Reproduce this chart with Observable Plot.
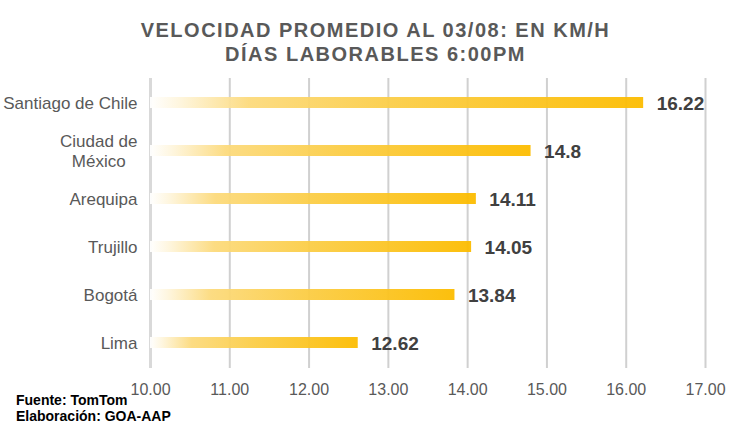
<!DOCTYPE html>
<html>
<head>
<meta charset="utf-8">
<script src="https://cdn.jsdelivr.net/npm/d3@7"></script>
<script src="https://cdn.jsdelivr.net/npm/@observablehq/plot@0.6"></script>
<style>
  html, body { margin: 0; padding: 0; background: #fff; }
  body { width: 751px; height: 437px; position: relative; overflow: hidden; font-family: "Liberation Sans", Arial, sans-serif; }
  #title { position: absolute; top: 18px; left: 0; width: 751px; text-align: center; font-size: 20px; line-height: 24px; font-weight: bold; color: #595959; letter-spacing: 1.5px; }
  #chart { position: absolute; top: 68px; left: 0; }
  #caption { position: absolute; top: 392px; left: 16px; font-size: 14px; line-height: 16px; font-weight: bold; color: #000; }
</style>
</head>
<body>
<div id="title">VELOCIDAD PROMEDIO AL 03/08: EN KM/H<br>DÍAS LABORABLES 6:00PM</div>
<div id="chart"></div>
<div id="caption">Fuente: TomTom<br>Elaboración: GOA-AAP</div>
<script>
const cities = ["Santiago de Chile", "Ciudad de\nMéxico", "Arequipa", "Trujillo", "Bogotá", "Lima"];
const speeds = [16.22, 14.8, 14.11, 14.05, 13.84, 12.62];
const valueLabels = ["16.22", "14.8", "14.11", "14.05", "13.84", "12.62"];
const xTicks = [10, 11, 12, 13, 14, 15, 16, 17];

const data = cities.map((c, i) => ({city: c, speed: speeds[i], label: valueLabels[i]}));

const defsMark = () => {
  const ns = "http://www.w3.org/2000/svg";
  const defs = document.createElementNS(ns, "defs");
  const g = document.createElementNS(ns, "linearGradient");
  g.setAttribute("id", "barGrad");
  g.setAttribute("x1", "0"); g.setAttribute("x2", "1");
  g.setAttribute("y1", "0"); g.setAttribute("y2", "0");
  [[0, "#ffffff", 1], [0.06, "#fef5dc", 1], [0.2, "#fcda7c", 1], [0.5, "#fbcd46", 1], [1, "#fcbc00", 1]].forEach(([o, c, a]) => {
    const s = document.createElementNS(ns, "stop");
    s.setAttribute("offset", o);
    s.setAttribute("stop-color", c);
    s.setAttribute("stop-opacity", a);
    g.appendChild(s);
  });
  defs.appendChild(g);
  return defs;
};

const plot = Plot.plot({
  width: 751,
  height: 340,
  marginTop: 10,
  marginBottom: 40,
  marginLeft: 150,
  marginRight: 46,
  style: {fontFamily: '"Liberation Sans", Arial, sans-serif', color: "#595959", background: "transparent"},
  x: {domain: [xTicks[0], xTicks[xTicks.length - 1]], label: null},
  y: {type: "band", domain: cities, paddingInner: 0.77, paddingOuter: 0.385, label: null},
  marks: [
    defsMark,
    Plot.ruleX(xTicks.slice(1), {stroke: "#d0d0d0", strokeWidth: 2}),
    Plot.ruleX(xTicks.slice(0, 1), {stroke: "#d9d9d9", strokeWidth: 3}),
    Plot.barX(data, {x1: xTicks[0], x2: "speed", y: "city", fill: "url(#barGrad)", fillOpacity: 0.95}),
    Plot.text(data, {x: "speed", y: "city", text: "label", textAnchor: "start", dx: 13, dy: 1, fontSize: 19, fontWeight: "bold", fill: "#404040"}),
    Plot.axisX(xTicks, {tickSize: 0, tickPadding: 15, tickFormat: d => d.toFixed(2), fontSize: 16, fill: "#595959"}),
    Plot.axisY({tickSize: 0, tickPadding: 13, fontSize: 17, lineHeight: 1.15, fill: "#595959"})
  ]
});
document.getElementById("chart").appendChild(plot);

// center multi-line category labels like the original
plot.querySelectorAll('g[aria-label="y-axis tick label"] text').forEach(t => {
  const spans = t.querySelectorAll("tspan");
  if (spans.length > 1) {
    let w = 0;
    spans.forEach(s => { w = Math.max(w, s.getComputedTextLength()); });
    t.setAttribute("text-anchor", "middle");
    spans.forEach(s => s.setAttribute("x", -w / 2));
  }
});
</script>
</body>
</html>
